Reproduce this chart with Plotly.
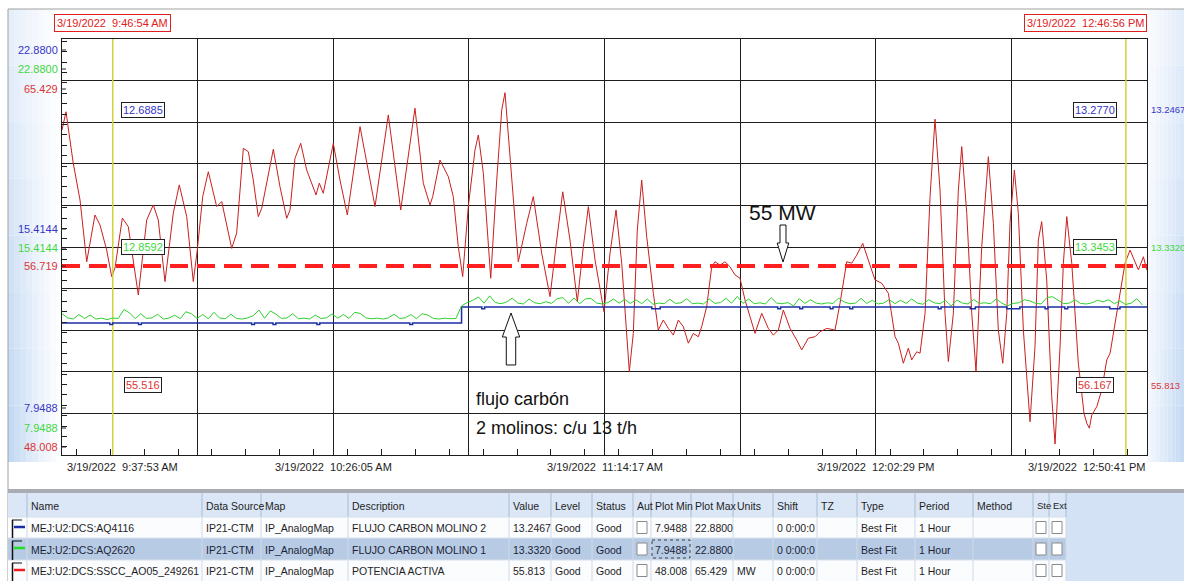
import pandas as pd
import plotly.graph_objects as go

# ------------------------------------------------------------------ data
START = "2022-03-19 09:37:53"
END = "2022-03-19 12:50:41"

# POTENCIA ACTIVA (MW): vertices read from the trend, minutes after START
red_minutes = [
    0.0, 0.71, 1.99, 3.20, 4.39, 5.86, 6.75, 7.94, 8.83, 9.42,
    10.72, 11.78, 13.56, 15.05, 16.22, 17.11, 18.30, 19.78, 20.84, 22.16,
    23.33, 24.04, 25.00, 26.00, 27.49, 28.38, 30.16, 31.04, 32.22, 33.11,
    33.99, 34.88, 35.49, 36.66, 37.55, 38.74, 39.93, 40.52, 41.40, 42.42,
    43.48, 45.14, 45.72, 46.43, 48.21, 49.40, 50.70, 52.96, 55.62, 57.98,
    60.19, 62.72, 64.20, 65.39, 65.87, 67.17, 68.65, 69.53, 70.42, 71.20,
    72.20, 73.39, 73.98, 74.87, 76.18, 77.25, 78.14, 78.72, 79.61, 81.08,
    82.58, 83.75, 85.24, 86.72, 87.91, 88.98, 90.27, 91.57, 92.64, 93.53,
    94.72, 96.31, 97.38, 98.45, 99.46, 100.35, 100.81, 101.52, 102.23, 103.01,
    103.90, 105.08, 105.96, 106.85, 107.74, 108.63, 109.52, 110.41, 111.30, 112.18,
    113.07, 113.67, 114.56, 115.45, 116.04, 116.93, 117.81, 118.70, 119.59, 120.48,
    121.37, 122.26, 123.15, 124.34, 125.51, 126.40, 127.29, 128.18, 129.37, 130.56,
    131.44, 132.62, 133.81, 134.70, 135.89, 137.36, 138.25, 139.44, 140.33, 141.22,
    142.29, 143.28, 144.47, 145.66, 146.84, 148.03, 148.62, 149.50, 150.39, 150.99,
    151.88, 152.47, 153.36, 154.25, 155.13, 156.02, 156.91, 157.50, 158.39, 159.28,
    159.88, 160.77, 161.66, 162.42, 163.43, 164.61, 165.50, 166.38, 167.17, 167.88,
    168.46, 169.23, 169.94, 170.83, 172.01, 172.90, 173.49, 174.09, 174.98, 175.87,
    176.46, 177.35, 177.94, 178.54, 179.43, 180.60, 181.61, 182.09, 182.56, 182.98,
    183.87, 184.76, 185.65, 186.24, 186.82, 187.71, 188.90, 189.79, 190.68, 191.27,
    192.16, 192.76]
red_mw = [
    61.62, 62.38, 60.24, 58.69, 56.10, 58.06, 57.64, 56.59, 55.48, 55.84,
    57.93, 57.57, 54.71, 57.85, 58.48, 57.85, 55.27, 58.14, 59.32, 57.99,
    55.27, 56.59, 58.83, 59.87, 58.41, 58.62, 56.66, 57.31, 60.85, 60.71,
    59.52, 57.99, 58.34, 59.66, 60.81, 59.24, 57.92, 58.27, 60.43, 61.06,
    59.94, 58.90, 59.39, 58.97, 61.06, 59.52, 58.06, 61.76, 58.41, 62.25,
    58.27, 62.53, 59.39, 58.48, 58.83, 60.36, 59.66, 58.83, 56.73, 55.48,
    58.41, 60.78, 61.41, 59.81, 55.41, 59.52, 62.46, 63.18, 60.36, 56.10,
    57.71, 58.83, 56.46, 54.64, 57.01, 59.03, 57.01, 54.43, 56.73, 58.41,
    56.17, 54.01, 56.46, 58.27, 56.04, 53.24, 51.50, 53.10, 57.43, 59.52,
    57.15, 54.78, 53.24, 53.66, 53.31, 53.03, 53.66, 53.38, 52.69, 53.10,
    52.96, 53.38, 54.22, 55.89, 56.10, 55.96, 56.10, 55.89, 55.55, 55.41,
    54.50, 53.80, 53.10, 53.94, 53.31, 53.03, 53.24, 54.08, 53.31, 52.82,
    52.41, 52.90, 52.96, 53.17, 53.31, 53.24, 54.36, 56.10, 56.04, 56.38,
    56.87, 56.17, 55.34, 55.20, 54.78, 52.96, 52.69, 51.85, 52.48, 51.99,
    52.33, 52.27, 53.94, 58.83, 62.07, 59.11, 53.94, 51.92, 53.94, 59.11,
    60.92, 58.13, 53.94, 51.50, 56.73, 60.50, 57.71, 53.24, 51.85, 53.94,
    57.71, 59.94, 58.13, 53.24, 49.40, 52.54, 57.01, 57.78, 55.34, 50.45,
    48.47, 52.54, 56.04, 57.99, 56.04, 51.85, 49.75, 49.34, 49.13, 49.68,
    50.03, 50.73, 51.99, 52.27, 53.10, 54.22, 56.04, 56.59, 56.10, 55.76,
    56.31, 55.76]

# FLUJO CARBON MOLINO 1 (t/h), one sample per minute from START
green_th = [
    13.02, 12.87, 12.83, 12.99, 12.85, 12.97, 12.83, 12.86, 12.81, 12.86,
    12.85, 13.17, 13.05, 12.84, 13.02, 12.85, 12.87, 13.00, 12.83, 12.86,
    12.97, 12.84, 13.09, 13.02, 12.85, 12.99, 12.84, 13.07, 12.87, 12.84,
    13.00, 12.85, 12.83, 12.87, 12.95, 13.15, 12.86, 13.12, 13.01, 12.85,
    12.87, 13.02, 12.84, 12.86, 12.83, 12.97, 12.85, 12.87, 13.01, 12.86,
    12.99, 12.85, 13.07, 13.03, 12.87, 12.84, 12.86, 12.83, 12.87, 13.00,
    12.85, 12.87, 12.99, 12.84, 13.02, 12.97, 12.85, 12.83, 12.86, 12.84,
    12.85, 13.30, 13.42, 13.50, 13.62, 13.40, 13.66, 13.42, 13.38, 13.44,
    13.58, 13.40, 13.37, 13.55, 13.41, 13.38, 13.45, 13.39, 13.56, 13.60,
    13.40, 13.58, 13.38, 13.55, 13.57, 13.40, 13.37, 13.42, 13.55, 13.40,
    13.53, 13.39, 13.52, 13.38, 13.55, 13.36, 13.40, 13.38, 13.54, 13.39,
    13.41, 13.56, 13.38, 13.40, 13.37, 13.55, 13.39, 13.42, 13.57, 13.40,
    13.64, 13.39, 13.55, 13.38, 13.41, 13.37, 13.60, 13.40, 13.38, 13.42,
    13.30, 13.56, 13.39, 13.52, 13.40, 13.37, 13.41, 13.39, 13.58, 13.44,
    13.38, 13.40, 13.57, 13.39, 13.50, 13.37, 13.40, 13.53, 13.38, 13.50,
    13.39, 13.55, 13.40, 13.36, 13.52, 13.41, 13.38, 13.50, 13.30, 13.51,
    13.40, 13.37, 13.53, 13.39, 13.41, 13.38, 13.55, 13.40, 13.30, 13.39,
    13.41, 13.52, 13.48, 13.39, 13.37, 13.60, 13.63, 13.50, 13.38, 13.40,
    13.52, 13.39, 13.37, 13.41, 13.50, 13.45, 13.52, 13.38, 13.48, 13.35,
    13.40, 13.56, 13.33]

# FLUJO CARBON MOLINO 2 (t/h): step changes, minutes after START
blue_minutes = [
    0.0, 8.5, 9.0, 13.6, 14.1, 33.7, 34.2, 37.5, 38.0, 45.3,
    45.8, 61.8, 62.3, 71.0, 74.6, 75.1, 104.8, 106.3, 127.2, 127.7,
    131.1, 131.6, 136.5, 137.0, 140.0, 140.5, 155.7, 156.2, 161.4, 162.3,
    167.9, 170.2, 174.7, 175.2, 178.2, 178.7, 186.2, 188.0, 192.8]
blue_th = [
    12.69, 12.63, 12.69, 12.63, 12.69, 12.63, 12.69, 12.63, 12.69, 12.63,
    12.69, 12.63, 12.69, 13.26, 13.20, 13.26, 13.20, 13.26, 13.20, 13.26,
    13.20, 13.26, 13.20, 13.26, 13.20, 13.26, 13.20, 13.26, 13.20, 13.26,
    13.20, 13.26, 13.20, 13.26, 13.20, 13.26, 13.20, 13.26, 13.25]

setpoint_mw = 55.92          # dashed "55 MW" reference line
mw_range = [48.008, 65.429]
flow_range = [7.9488, 22.8800]

cursor_times = ["2022-03-19 09:46:54", "2022-03-19 12:46:56"]
cursor_stamps = ["3/19/2022  9:46:54 AM", "3/19/2022  12:46:56 PM"]
cursor_blue = ["12.6885", "13.2770"]
cursor_green = ["12.8592", "13.3453"]
cursor_red = ["55.516", "56.167"]
last_values = ["13.2467", "13.3320", "55.813"]

mw_axis_labels = ["65.429", "56.719", "48.008"]
flow_axis_labels = ["22.8800", "15.4144", "7.9488"]
time_tick_values = ["2022-03-19 09:37:53", "2022-03-19 10:26:05", "2022-03-19 11:14:17",
                    "2022-03-19 12:02:29", "2022-03-19 12:50:41"]
time_tick_labels = ["3/19/2022  9:37:53 AM", "3/19/2022  10:26:05 AM", "3/19/2022  11:14:17 AM",
                    "3/19/2022  12:02:29 PM", "3/19/2022  12:50:41 PM"]

# legend table
table_header = ["", "Name", "Data Source", "Map", "Description", "Value", "Level", "Status",
                "Aut", "Plot Min", "Plot Max", "Units", "Shift", "TZ", "Type", "Period",
                "Method", "Ste", "Ext"]
tag_names = ["MEJ:U2:DCS:AQ4116", "MEJ:U2:DCS:AQ2620", "MEJ:U2:DCS:SSCC_AO05_249261"]
data_sources = ["IP21-CTM", "IP21-CTM", "IP21-CTM"]
maps = ["IP_AnalogMap", "IP_AnalogMap", "IP_AnalogMap"]
descriptions = ["FLUJO CARBON MOLINO 2", "FLUJO CARBON MOLINO 1", "POTENCIA ACTIVA"]
levels = ["Good", "Good", "Good"]
statuses = ["Good", "Good", "Good"]
plot_mins = ["7.9488", "7.9488", "48.008"]
plot_maxs = ["22.8800", "22.8800", "65.429"]
units = ["", "", "MW"]
shifts = ["0 0:00:0", "0 0:00:0", "0 0:00:0"]
types = ["Best Fit", "Best Fit", "Best Fit"]
periods = ["1 Hour", "1 Hour", "1 Hour"]

# ------------------------------------------------------------------ style
BLUE, GREEN, RED = "#1b2ea6", "#2fd02f", "#c8201e"
BLUE_T, GREEN_T, RED_T = "#3535c8", "#3ed83e", "#dc3434"
FONT = "Liberation Sans, Arial, sans-serif"
GRID = "#1e1e1e"
W, H = 1184, 581
PL, PR, PT, PB = 62, 1147, 39, 455
FS = 11      # general small text
FT = 10.5    # table text


def fx(px):
    return (px - PL) / (PR - PL)


def fy(py):
    return (PB - py) / (PB - PT)


t0 = pd.Timestamp(START)
red_x = t0 + pd.to_timedelta(red_minutes, unit="min")
green_x = pd.date_range(t0, periods=len(green_th), freq="min")
blue_x = t0 + pd.to_timedelta(blue_minutes, unit="min")

fig = go.Figure()
fig.add_trace(go.Scatter(x=blue_x, y=blue_th, yaxis="y2", mode="lines", line_shape="hv",
                         line=dict(color=BLUE, width=1.5), hoverinfo="skip"))
fig.add_trace(go.Scatter(x=green_x, y=green_th, yaxis="y2", mode="lines",
                         line=dict(color=GREEN, width=1), hoverinfo="skip"))
fig.add_trace(go.Scatter(x=red_x, y=red_mw, mode="lines",
                         line=dict(color=RED, width=1), hoverinfo="skip"))
fig.add_trace(go.Scatter(x=[START, END], y=[setpoint_mw, setpoint_mw], mode="lines",
                         line=dict(color="#ff1f1f", width=4, dash="18px,9px"), hoverinfo="skip"))
for ct in cursor_times:
    fig.add_trace(go.Scatter(x=[ct, ct], y=mw_range, mode="lines",
                             line=dict(color="#d2d23a", width=1.5), hoverinfo="skip"))

shapes = []
ann = []


def rect(x0, y0, x1, y1, fill, line=None, lw=1, layer="below", dash=None):
    d = dict(type="rect", xref="paper", yref="paper", x0=fx(x0), x1=fx(x1),
             y0=fy(y0), y1=fy(y1), fillcolor=fill, layer=layer,
             line=dict(width=lw if line else 0, color=line or "rgba(0,0,0,0)"))
    if dash:
        d["line"]["dash"] = dash
    shapes.append(d)


def seg(x0, y0, x1, y1, color, width=1, layer="below"):
    shapes.append(dict(type="line", xref="paper", yref="paper", x0=fx(x0), x1=fx(x1),
                       y0=fy(y0), y1=fy(y1), layer=layer, line=dict(color=color, width=width)))


def mix(k):
    r = round(255 - (255 - 192) * k)
    g = round(255 - (255 - 215) * k)
    b = round(255 - (255 - 243) * k)
    return f"rgb({r},{g},{b})"


# side gradient panels
NX, NY = 9, 8
for i in range(NX):
    for j in range(NY):
        v = (j + 0.5) / NY
        y0 = 9 + (462 - 9) * j / NY
        y1 = 9 + (462 - 9) * (j + 1) / NY
        u = (i + 0.5) / NX
        k = ((1 - u) ** 1.2) * (0.4 + 0.65 * v)
        x0 = 8 + (PL - 8) * i / NX
        x1 = 8 + (PL - 8) * (i + 1) / NX
        rect(x0, y0, x1, y1, mix(min(k, 1)))
        k2 = (0.15 + 0.85 * u) * (0.45 + 0.55 * v)
        x0 = PR + (W - PR) * i / NX
        x1 = PR + (W - PR) * (i + 1) / NX
        rect(x0, y0, x1, y1, mix(k2))

# frame lines
seg(8, 9, W, 9, "#a0a0a0")
seg(8, 9, 8, H, "#a0a0a0")

# ---- table
col_lefts = [10, 27, 202, 261, 348, 509, 551, 592, 633, 651, 691, 733, 773, 817, 857,
             915, 973, 1033, 1049]
table_right = 1066
row_tops = [517, 538, 560]
row_bots = [538, 560, 581]
rect(8, 489, W, 493, "#a9adb3")
rect(table_right, 493, W, H, "#d3e2f4")
rect(8, 493, table_right, 517, "#dbe7f6")
rect(8, 517, table_right, 538, "#fbfcfe")
rect(8, 538, table_right, 560, "#b8cbe4")
rect(8, 560, table_right, H, "#fbfcfe")
for cl in col_lefts[1:] + [table_right]:
    seg(cl, 493, cl, 517, "#a9bcd5")
    seg(cl, 517, cl, H, "#cfd9e6")
for yl in [517, 538, 560]:
    seg(8, yl, table_right, yl, "#d6dfeb")

for c, htxt in enumerate(table_header):
    if htxt:
        ann.append(dict(x=fx(col_lefts[c] + 2), y=fy(506), text=htxt, xanchor="left",
                        font=dict(family=FONT, size=FT if c < 17 else 9.5, color="#1e1e1e")))

series_colors = [BLUE, "#22dd22", "#ee1c1c"]
for r in range(3):
    yt, yb = row_tops[r], row_bots[r]
    yc = (yt + yb) / 2
    # colour flag icon
    seg(12.5, yt + 3, 12.5, yb, "#111111", 1.5, "above")
    seg(12, yt + 3, 22, yt + 3, "#111111", 1, "above")
    seg(14, yt + 10, 25, yt + 10, series_colors[r], 2.5, "above")
    cells = {1: tag_names[r], 2: data_sources[r], 3: maps[r], 4: descriptions[r],
             5: last_values[r], 6: levels[r], 7: statuses[r], 9: plot_mins[r],
             10: plot_maxs[r], 11: units[r], 12: shifts[r], 14: types[r], 15: periods[r]}
    tcol = "#1a1f3a" if r == 1 else "#1e1e1e"
    for c, txt in cells.items():
        if txt:
            ann.append(dict(x=fx(col_lefts[c] + 2), y=fy(yc + 0.5), text=txt, xanchor="left",
                            font=dict(family=FONT, size=FT, color=tcol)))
    for bx in [637, 1036, 1052]:
        rect(bx, yc - 6, bx + 10, yc + 6, "#ffffff", "#8a8a8a", 1, "above")
rect(652, 540, 690, 558, "rgba(0,0,0,0)", "#404040", 1, "above", dash="dot")


# ---- hollow block arrows (annotation)
def arrow(cx, tip, base, tail, hhw, shw):
    pts = [(cx, tip), (cx + hhw, base), (cx + shw, base), (cx + shw, tail),
           (cx - shw, tail), (cx - shw, base), (cx - hhw, base)]
    path = "M " + " L ".join(f"{fx(x):.5f},{fy(y):.5f}" for x, y in pts) + " Z"
    shapes.append(dict(type="path", xref="paper", yref="paper", path=path,
                       fillcolor="white", line=dict(color="#111111", width=1), layer="above"))


arrow(511, 313, 337, 365, 8.7, 4.7)
arrow(783, 262, 243, 225, 5.8, 3.0)

# ---- axis labels (stacked, coloured)
stack = [
    (50, flow_axis_labels[0], BLUE_T), (69, flow_axis_labels[0], GREEN_T), (89, mw_axis_labels[0], RED_T),
    (229, flow_axis_labels[1], BLUE_T), (248, flow_axis_labels[1], GREEN_T), (266, mw_axis_labels[1], RED_T),
    (408, flow_axis_labels[2], BLUE_T), (428, flow_axis_labels[2], GREEN_T), (447, mw_axis_labels[2], RED_T),
]
for yy, txt, col in stack:
    ann.append(dict(x=fx(60), y=fy(yy), text=txt, xanchor="right",
                    font=dict(family=FONT, size=FS, color=col)))
    seg(61, yy, 66, yy, "#222222", 1, "above")

for yy, txt, col in [(110, last_values[0], BLUE_T), (247, last_values[1], GREEN_T),
                     (385, last_values[2], RED_T)]:
    ann.append(dict(x=fx(1149), y=fy(yy), text=txt, xanchor="left",
                    font=dict(family=FONT, size=9.5, color=col)))

# cursor value boxes
for i, cx in enumerate([143, 1095]):
    for yy, txt, col in [(110, cursor_blue[i], BLUE_T), (247, cursor_green[i], GREEN_T),
                         (385, cursor_red[i], RED_T)]:
        ann.append(dict(x=fx(cx), y=fy(yy), text=txt, xanchor="center",
                        font=dict(family=FONT, size=FS, color=col), bgcolor="white",
                        bordercolor="#1e1e1e", borderwidth=1, borderpad=1))

# cursor timestamps
ann.append(dict(x=cursor_times[0], xref="x", y=fy(23), text=cursor_stamps[0], xanchor="center",
                font=dict(family=FONT, size=FS, color="#e02020"), bgcolor="white",
                bordercolor="#e02020", borderwidth=1, borderpad=2))
ann.append(dict(x=1.0, y=fy(23), text=cursor_stamps[1], xanchor="right",
                font=dict(family=FONT, size=FS, color="#e02020"), bgcolor="white",
                bordercolor="#e02020", borderwidth=1, borderpad=2))

# time tick labels
for i, (tv, tl) in enumerate(zip(time_tick_values, time_tick_labels)):
    anchor = "left" if i == 0 else ("right" if i == len(time_tick_values) - 1 else "center")
    ann.append(dict(x=tv, xref="x", y=fy(467), text=tl, xanchor=anchor,
                    xshift=3 if i == 0 else 0,
                    font=dict(family=FONT, size=FS, color="#1e1e1e")))

# free text notes
ann.append(dict(x=fx(782), y=fy(213), text="55 MW", xanchor="center",
                font=dict(family=FONT, size=21, color="#111111")))
ann.append(dict(x=fx(474), y=fy(399), text="flujo carbón", xanchor="left",
                font=dict(family=FONT, size=18, color="#111111")))
ann.append(dict(x=fx(474), y=fy(428), text="2 molinos: c/u 13 t/h", xanchor="left",
                font=dict(family=FONT, size=18, color="#111111")))

for a in ann:
    a.setdefault("xref", "paper")
    a.setdefault("yref", "paper")
    a.setdefault("showarrow", False)
    a.setdefault("yanchor", "middle")

dtick_ms = (24 * 60 + 6) * 1000
fig.update_layout(
    width=W, height=H,
    margin=dict(l=PL, r=W - PR, t=PT, b=H - PB, pad=0),
    paper_bgcolor="white", plot_bgcolor="white",
    showlegend=False,
    xaxis=dict(type="date", range=[START, END], tick0=START, dtick=dtick_ms,
               showgrid=True, gridcolor=GRID, gridwidth=1, zeroline=False,
               showline=True, linecolor=GRID, linewidth=1, mirror=True,
               ticks="inside", ticklen=6, tickcolor=GRID, showticklabels=False,
               minor=dict(dtick=dtick_ms / 4, ticks="inside", ticklen=6, tickcolor=GRID,
                          showgrid=False)),
    yaxis=dict(range=mw_range, tick0=mw_range[0], dtick=(mw_range[1] - mw_range[0]) / 10,
               showgrid=True, gridcolor=GRID, gridwidth=1, zeroline=False,
               showline=True, linecolor=GRID, linewidth=1, mirror=True,
               ticks="inside", ticklen=5, tickcolor=GRID, showticklabels=False,
               minor=dict(dtick=(mw_range[1] - mw_range[0]) / 40, ticks="inside", ticklen=5,
                          tickcolor=GRID, showgrid=False)),
    yaxis2=dict(range=flow_range, overlaying="y", visible=False),
    shapes=shapes,
    annotations=ann,
)

fig.write_html("out.html", config={"displayModeBar": False},
               post_script="document.body.style.margin='0';document.body.style.overflow='hidden';")
